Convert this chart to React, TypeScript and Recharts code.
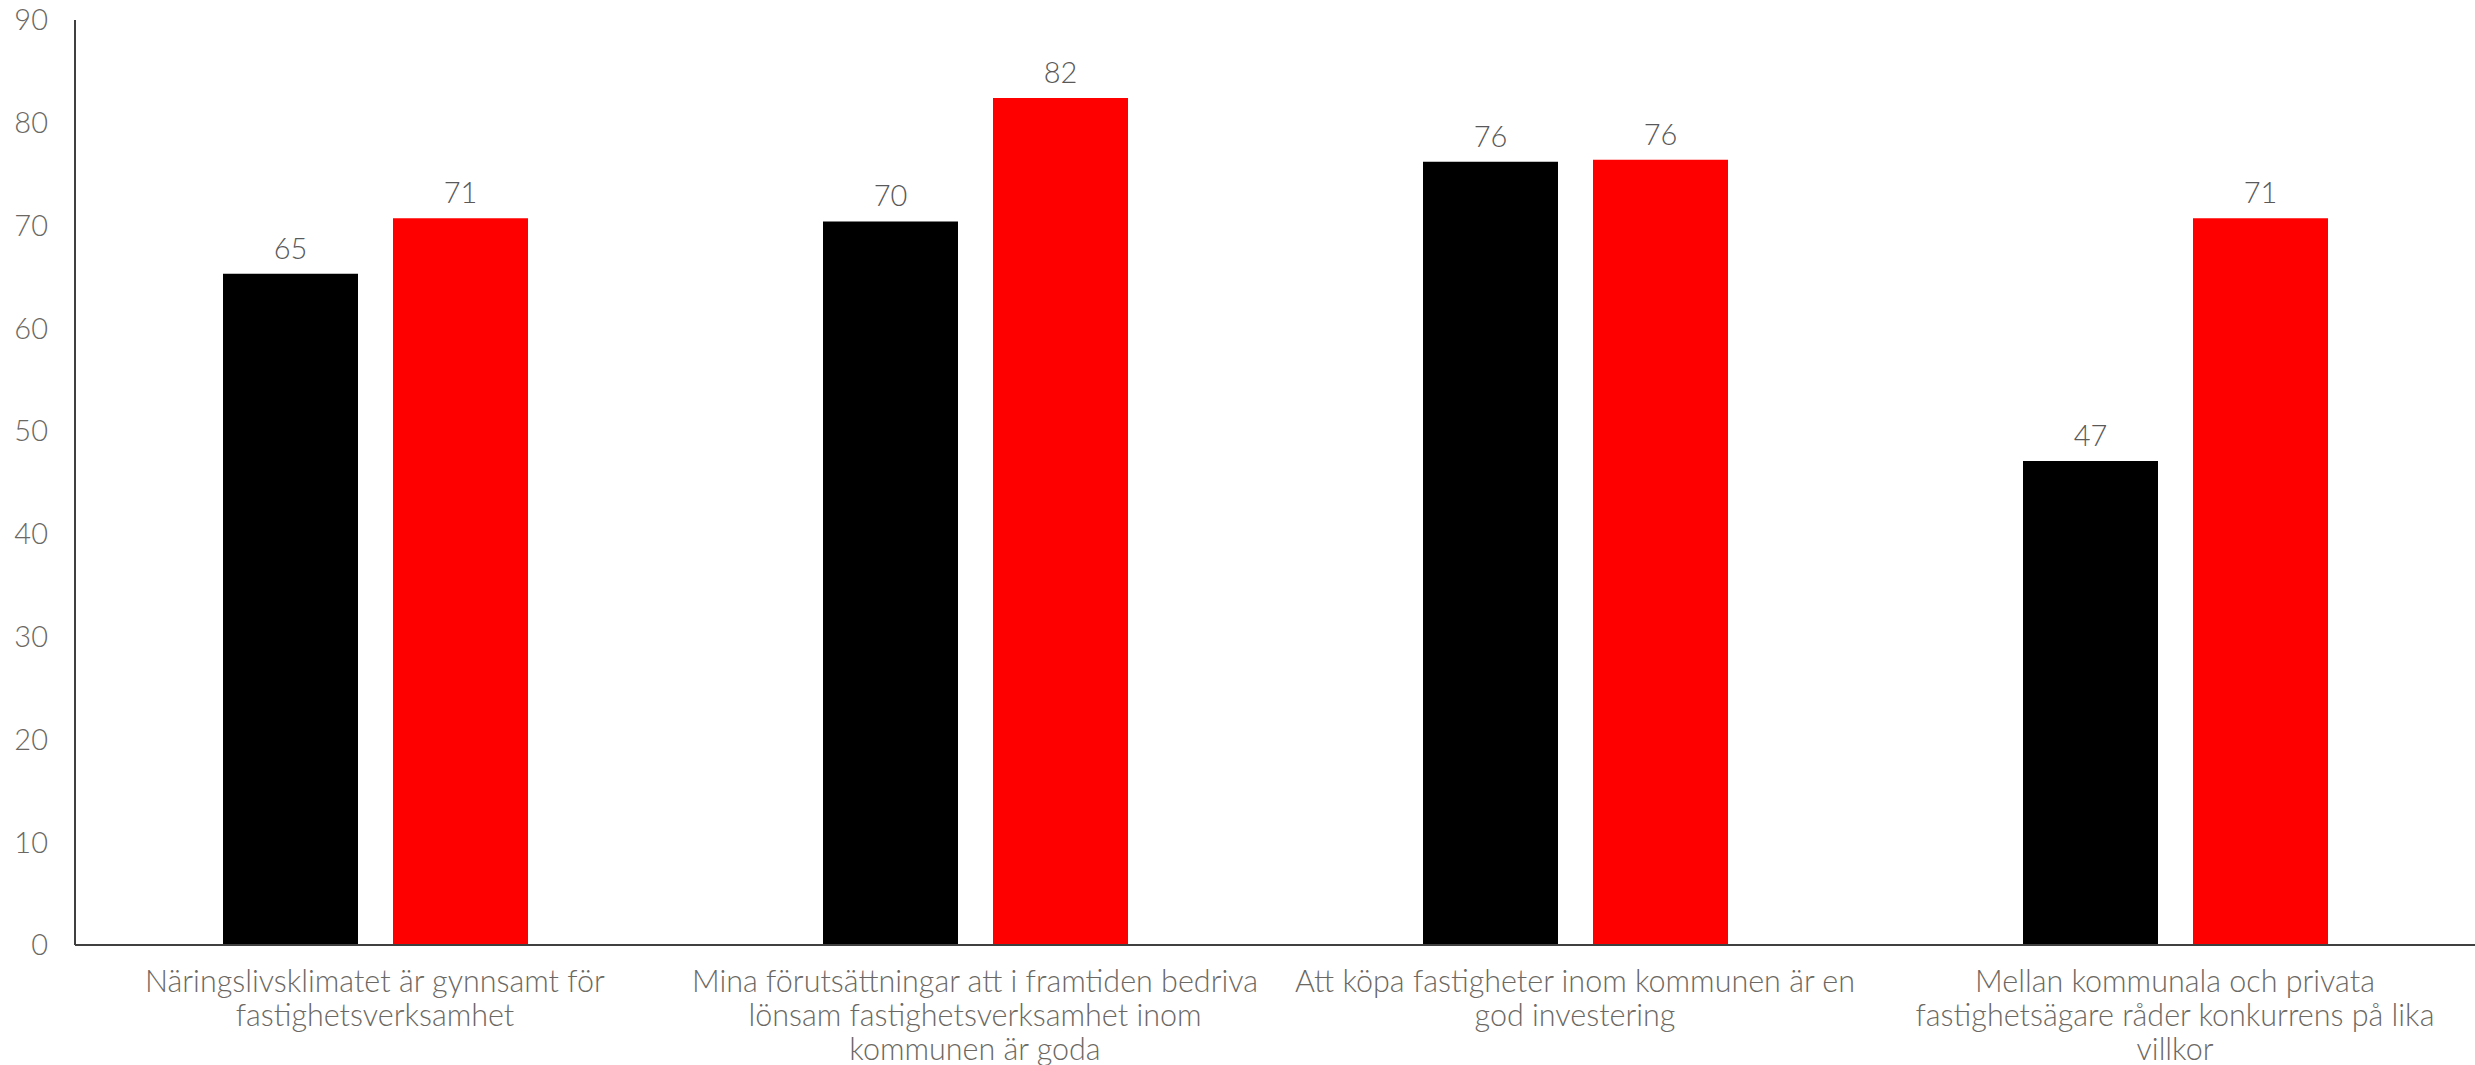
import { BarChart, Bar, XAxis, YAxis, LabelList } from 'recharts'

const categories = [
  'Näringslivsklimatet är gynnsamt för\nfastighetsverksamhet',
  'Mina förutsättningar att i framtiden bedriva\nlönsam fastighetsverksamhet inom\nkommunen är goda',
  'Att köpa fastigheter inom kommunen är en\ngod investering',
  'Mellan kommunala och privata\nfastighetsägare råder konkurrens på lika\nvillkor',
]
const seriesBlack = [65.3, 70.4, 76.2, 47.1]
const seriesRed = [70.7, 82.4, 76.4, 70.7]
const yTicks = [0, 10, 20, 30, 40, 50, 60, 70, 80, 90]

const data = categories.map((c, i) => ({
  name: c,
  black: seriesBlack[i],
  red: seriesRed[i],
}))

const FONT = 'Lato, "Open Sans", sans-serif'
const TEXT_GRAY = '#6b6863'

function CategoryTick(props: any) {
  const { x, y, payload } = props
  const lines = String(payload.value).split('\n')
  return (
    <text
      x={x}
      y={y}
      textAnchor="middle"
      fill={TEXT_GRAY}
      fontSize={30.5}
      fontFamily={FONT}
      fontWeight={300}
    >
      {lines.map((line, i) => (
        <tspan key={i} x={x} y={y + 47 + i * 34}>
          {line}
        </tspan>
      ))}
    </text>
  )
}

export default function App() {
  return (
    <div style={{ position: 'absolute', left: 0, top: 0, background: '#fff' }}>
      <BarChart
        width={2475}
        height={1065}
        data={data}
        margin={{ top: 20, right: 0, bottom: 0, left: 0 }}
        barSize={135}
        barGap={35}
      >
        <XAxis
          dataKey="name"
          height={120}
          tickLine={false}
          tickSize={0}
          tickMargin={0}
          axisLine={{ stroke: '#404040', strokeWidth: 2 }}
          tick={<CategoryTick />}
          interval={0}
        />
        <YAxis
          width={75}
          domain={[0, 90]}
          ticks={yTicks}
          interval={0}
          tickLine={false}
          tickSize={0}
          tickMargin={27}
          axisLine={{ stroke: '#404040', strokeWidth: 2 }}
          tick={{ fill: TEXT_GRAY, fontSize: 29, fontFamily: FONT, fontWeight: 300 }}
        />
        <Bar dataKey="black" fill="#000000" isAnimationActive={false}>
          <LabelList
            dataKey="black"
            position="top"
            offset={15}
            formatter={(v: any) => Math.round(Number(v))}
            style={{ fill: '#595959', fontSize: 29, fontFamily: FONT, fontWeight: 300 }}
          />
        </Bar>
        <Bar dataKey="red" fill="#ff0000" isAnimationActive={false}>
          <LabelList
            dataKey="red"
            position="top"
            offset={15}
            formatter={(v: any) => Math.round(Number(v))}
            style={{ fill: '#595959', fontSize: 29, fontFamily: FONT, fontWeight: 300 }}
          />
        </Bar>
      </BarChart>
    </div>
  )
}
